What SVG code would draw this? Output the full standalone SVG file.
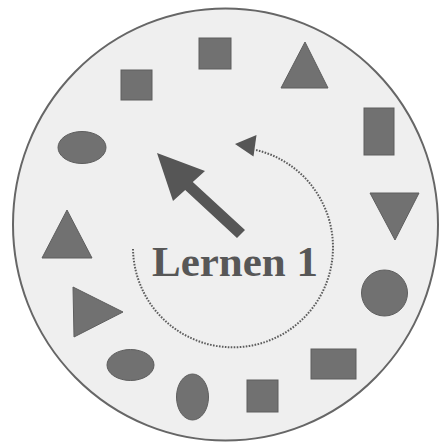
<svg xmlns="http://www.w3.org/2000/svg" width="441" height="443" viewBox="0 0 441 443">
<style>
.sh{fill:#717171;stroke:#5e5e5e;stroke-width:1}
.lbl{font-family:"Liberation Serif","Times New Roman",serif;font-weight:bold;font-size:43px;fill:#575757}
</style>
<rect width="441" height="443" fill="#ffffff"/>
<g id="outer">
<ellipse cx="225.5" cy="224.5" rx="212.5" ry="216" fill="#efefef" stroke="#666" stroke-width="2"/>
</g>
<g id="square-top"><rect class="sh" x="199" y="38" width="32" height="31"/></g>
<g id="square-upper-left"><rect class="sh" x="121" y="70" width="31" height="30"/></g>
<g id="triangle-top-right"><polygon class="sh" points="305,42 328,88 281,88"/></g>
<g id="rect-right"><rect class="sh" x="364" y="108" width="30" height="47"/></g>
<g id="triangle-down"><polygon class="sh" points="370,193 419,193 395,240"/></g>
<g id="circle-right"><circle class="sh" cx="384.5" cy="293" r="23"/></g>
<g id="rect-bottom-right"><rect class="sh" x="311" y="349" width="45" height="30"/></g>
<g id="square-bottom"><rect class="sh" x="247" y="380" width="31" height="32"/></g>
<g id="ellipse-bottom"><ellipse class="sh" cx="192.5" cy="397" rx="16" ry="23"/></g>
<g id="ellipse-bottom-left"><ellipse class="sh" cx="130.5" cy="365" rx="23.5" ry="15.5"/></g>
<g id="triangle-right"><polygon class="sh" points="73,287 123,312 74,337"/></g>
<g id="triangle-left"><polygon class="sh" points="67,210 92,258 42,258"/></g>
<g id="ellipse-left"><ellipse class="sh" cx="82" cy="147.5" rx="24" ry="16"/></g>
<g id="connectors">
<polygon fill="#565656" points="157,153 205,171 192.8,182 245,230 237,238 185.2,190 173,201"/>
<path d="M133,249 A100,100 0 1 0 256,150" fill="none" stroke="#5c5c5c" stroke-width="2" stroke-dasharray="1.6 1.4"/>
<polygon fill="#565656" points="235,144 256.5,135 253.5,156.5"/>
</g>
<g id="label"><text class="lbl" x="152" y="276">Lernen 1</text></g>
</svg>
